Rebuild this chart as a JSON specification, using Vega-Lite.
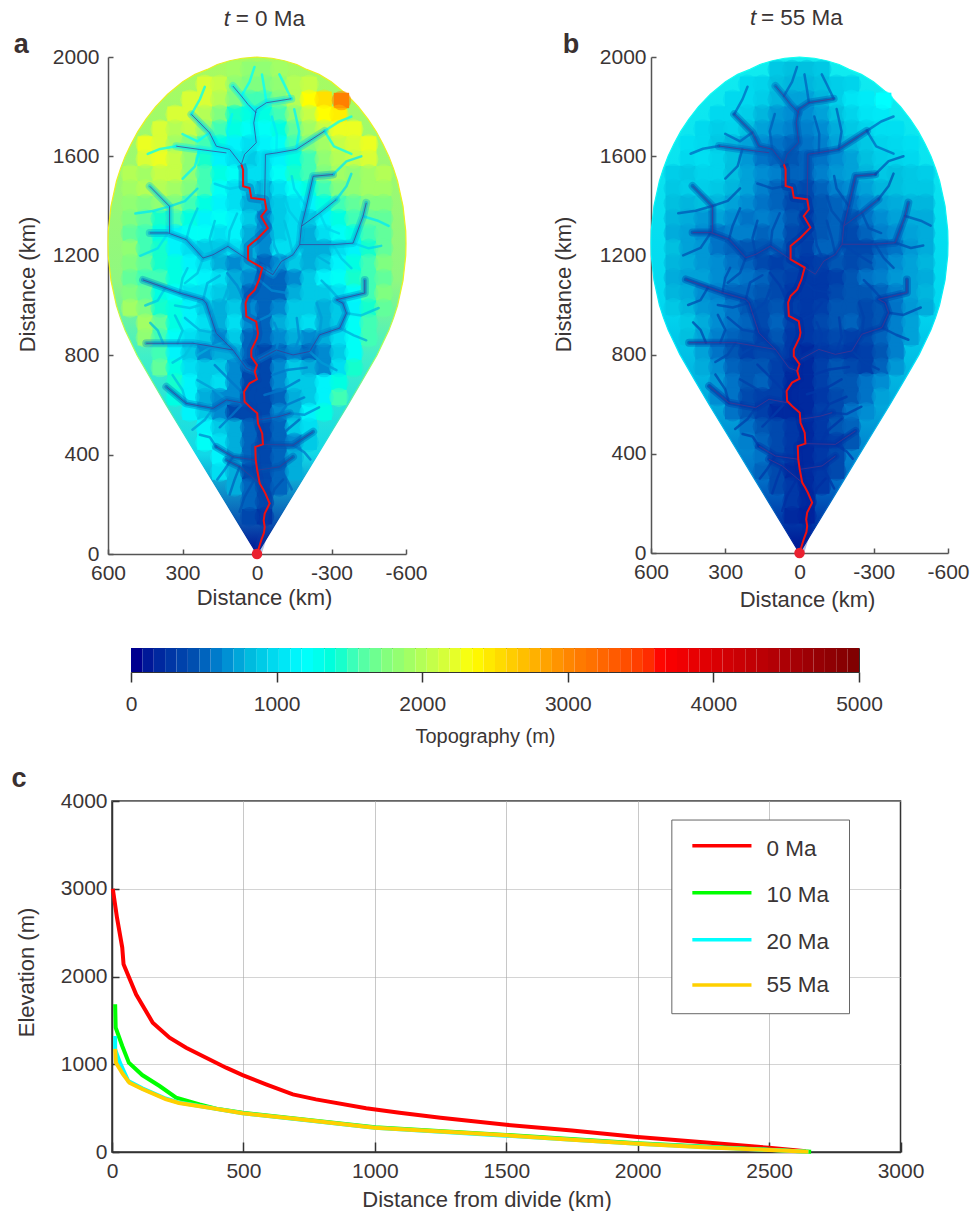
{"$schema":"https://vega.github.io/schema/vega-lite/v6.json","padding":{"left":10,"top":7,"right":0,"bottom":0},"bounds":"flush","spacing":0,"resolve":{"scale":{"color":"independent"}},
"config":{"view":{"stroke":null},"font":"Liberation Sans","axis":{"labelFont":"Liberation Sans","titleFont":"Liberation Sans","labelFontSize":21,"titleFontSize":22,"titleFontWeight":"normal","labelColor":"#3a3535","titleColor":"#3a3535","grid":false,"labelFlush":false,"labelOverlap":false,"domainColor":"#555","tickColor":"#555","domainWidth":1.5,"tickWidth":1.5}},
"datasets":{
"outline":[{"y":0,"w0":0,"w1":0},{"y":100,"w0":61,"w1":-61},{"y":200,"w0":122,"w1":-122},{"y":300,"w0":183,"w1":-183},{"y":400,"w0":244,"w1":-244},{"y":500,"w0":305,"w1":-305},{"y":600,"w0":366,"w1":-366},{"y":700,"w0":425,"w1":-425},{"y":800,"w0":483,"w1":-483},{"y":850,"w0":507,"w1":-507},{"y":900,"w0":531,"w1":-531},{"y":950,"w0":550,"w1":-550},{"y":1000,"w0":566,"w1":-566},{"y":1100,"w0":588,"w1":-588},{"y":1200,"w0":599,"w1":-599},{"y":1250,"w0":600,"w1":-600},{"y":1300,"w0":599,"w1":-599},{"y":1400,"w0":588,"w1":-588},{"y":1500,"w0":566,"w1":-566},{"y":1550,"w0":550,"w1":-550},{"y":1600,"w0":531,"w1":-531},{"y":1650,"w0":507,"w1":-507},{"y":1700,"w0":480,"w1":-480},{"y":1750,"w0":447,"w1":-447},{"y":1800,"w0":408,"w1":-408},{"y":1850,"w0":360,"w1":-360},{"y":1900,"w0":299,"w1":-299},{"y":1930,"w0":250,"w1":-250},{"y":1950,"w0":200,"w1":-200},{"y":1970,"w0":160,"w1":-160},{"y":1985,"w0":110,"w1":-110},{"y":1995,"w0":60,"w1":-60},{"y":2000,"w0":0,"w1":0}],
"cells":[
{"x":90,"y":1950,"a":1700,"b":920},{"x":30,"y":1950,"a":1600,"b":880},{"x":-30,"y":1950,"a":1600,"b":880},{"x":-90,"y":1950,"a":1700,"b":920},
{"x":210,"y":1890,"a":2000,"b":1010},{"x":150,"y":1890,"a":1900,"b":980},{"x":90,"y":1890,"a":1600,"b":880},{"x":30,"y":1890,"a":1500,"b":840},{"x":-30,"y":1890,"a":1500,"b":840},{"x":-90,"y":1890,"a":1600,"b":880},{"x":-150,"y":1890,"a":1800,"b":950},{"x":-210,"y":1890,"a":1900,"b":980},
{"x":270,"y":1830,"a":2000,"b":1010},{"x":210,"y":1830,"a":2000,"b":1010},{"x":150,"y":1830,"a":1800,"b":950},{"x":90,"y":1830,"a":1500,"b":840},{"x":30,"y":1830,"a":1300,"b":760},{"x":-30,"y":1830,"a":1300,"b":760},{"x":-90,"y":1830,"a":1500,"b":840},{"x":-150,"y":1830,"a":1800,"b":950},{"x":-210,"y":1830,"a":2200,"b":1070},{"x":-270,"y":1830,"a":2400,"b":1100},
{"x":330,"y":1770,"a":2000,"b":1010},{"x":270,"y":1770,"a":2000,"b":1010},{"x":210,"y":1770,"a":1800,"b":950},{"x":150,"y":1770,"a":1500,"b":840},{"x":90,"y":1770,"a":1200,"b":720},{"x":30,"y":1770,"a":1100,"b":680},{"x":-30,"y":1770,"a":1100,"b":680},{"x":-90,"y":1770,"a":1300,"b":760},{"x":-150,"y":1770,"a":1600,"b":880},{"x":-210,"y":1770,"a":1900,"b":980},{"x":-270,"y":1770,"a":2200,"b":1070},{"x":-330,"y":1770,"a":2300,"b":1090},
{"x":390,"y":1710,"a":2000,"b":1010},{"x":330,"y":1710,"a":1800,"b":950},{"x":270,"y":1710,"a":1900,"b":980},{"x":210,"y":1710,"a":1600,"b":880},{"x":150,"y":1710,"a":1300,"b":760},{"x":90,"y":1710,"a":1100,"b":680},{"x":30,"y":1710,"a":1000,"b":630},{"x":-30,"y":1710,"a":1000,"b":630},{"x":-90,"y":1710,"a":1100,"b":680},{"x":-150,"y":1710,"a":1400,"b":800},{"x":-210,"y":1710,"a":1700,"b":920},{"x":-270,"y":1710,"a":1900,"b":980},{"x":-330,"y":1710,"a":2100,"b":1040},{"x":-390,"y":1710,"a":2100,"b":1040},
{"x":450,"y":1650,"a":2100,"b":1040},{"x":390,"y":1650,"a":2000,"b":1010},{"x":330,"y":1650,"a":1700,"b":920},{"x":270,"y":1650,"a":1500,"b":840},{"x":210,"y":1650,"a":1300,"b":760},{"x":150,"y":1650,"a":1100,"b":680},{"x":90,"y":1650,"a":900,"b":580},{"x":30,"y":1650,"a":800,"b":520},{"x":-30,"y":1650,"a":900,"b":580},{"x":-90,"y":1650,"a":1000,"b":630},{"x":-150,"y":1650,"a":1300,"b":760},{"x":-210,"y":1650,"a":1500,"b":840},{"x":-270,"y":1650,"a":1700,"b":920},{"x":-330,"y":1650,"a":1900,"b":980},{"x":-390,"y":1650,"a":2000,"b":1010},{"x":-450,"y":1650,"a":2100,"b":1040},
{"x":450,"y":1590,"a":2000,"b":1010},{"x":390,"y":1590,"a":2100,"b":1040},{"x":330,"y":1590,"a":1900,"b":980},{"x":270,"y":1590,"a":1600,"b":880},{"x":210,"y":1590,"a":1200,"b":720},{"x":150,"y":1590,"a":900,"b":580},{"x":90,"y":1590,"a":800,"b":520},{"x":30,"y":1590,"a":700,"b":470},{"x":-30,"y":1590,"a":800,"b":520},{"x":-90,"y":1590,"a":900,"b":580},{"x":-150,"y":1590,"a":1100,"b":680},{"x":-210,"y":1590,"a":1300,"b":760},{"x":-270,"y":1590,"a":1600,"b":880},{"x":-330,"y":1590,"a":1800,"b":950},{"x":-390,"y":1590,"a":1900,"b":980},{"x":-450,"y":1590,"a":2000,"b":1010},
{"x":510,"y":1530,"a":1800,"b":950},{"x":450,"y":1530,"a":1700,"b":920},{"x":390,"y":1530,"a":1900,"b":980},{"x":330,"y":1530,"a":1900,"b":980},{"x":270,"y":1530,"a":1600,"b":880},{"x":210,"y":1530,"a":1300,"b":760},{"x":150,"y":1530,"a":1100,"b":680},{"x":90,"y":1530,"a":1000,"b":630},{"x":30,"y":1530,"a":800,"b":520},{"x":-30,"y":1530,"a":800,"b":520},{"x":-90,"y":1530,"a":1000,"b":630},{"x":-150,"y":1530,"a":1200,"b":720},{"x":-210,"y":1530,"a":1300,"b":760},{"x":-270,"y":1530,"a":1500,"b":840},{"x":-330,"y":1530,"a":1700,"b":920},{"x":-390,"y":1530,"a":1600,"b":880},{"x":-450,"y":1530,"a":1700,"b":920},{"x":-510,"y":1530,"a":1800,"b":950},
{"x":510,"y":1470,"a":1700,"b":920},{"x":450,"y":1470,"a":1800,"b":950},{"x":390,"y":1470,"a":1800,"b":950},{"x":330,"y":1470,"a":1700,"b":920},{"x":270,"y":1470,"a":1500,"b":840},{"x":210,"y":1470,"a":1300,"b":760},{"x":150,"y":1470,"a":1000,"b":630},{"x":90,"y":1470,"a":800,"b":520},{"x":30,"y":1470,"a":700,"b":470},{"x":-30,"y":1470,"a":600,"b":400},{"x":-90,"y":1470,"a":800,"b":520},{"x":-150,"y":1470,"a":1000,"b":630},{"x":-210,"y":1470,"a":1100,"b":680},{"x":-270,"y":1470,"a":1300,"b":760},{"x":-330,"y":1470,"a":1500,"b":840},{"x":-390,"y":1470,"a":1600,"b":880},{"x":-450,"y":1470,"a":1700,"b":920},{"x":-510,"y":1470,"a":1700,"b":920},
{"x":510,"y":1410,"a":1600,"b":880},{"x":450,"y":1410,"a":1500,"b":840},{"x":390,"y":1410,"a":1600,"b":880},{"x":330,"y":1410,"a":1500,"b":840},{"x":270,"y":1410,"a":1300,"b":760},{"x":210,"y":1410,"a":1100,"b":680},{"x":150,"y":1410,"a":900,"b":580},{"x":90,"y":1410,"a":800,"b":520},{"x":30,"y":1410,"a":600,"b":400},{"x":-30,"y":1410,"a":600,"b":400},{"x":-90,"y":1410,"a":700,"b":470},{"x":-150,"y":1410,"a":800,"b":520},{"x":-210,"y":1410,"a":900,"b":580},{"x":-270,"y":1410,"a":1100,"b":680},{"x":-330,"y":1410,"a":1300,"b":760},{"x":-390,"y":1410,"a":1400,"b":800},{"x":-450,"y":1410,"a":1500,"b":840},{"x":-510,"y":1410,"a":1500,"b":840},
{"x":510,"y":1350,"a":1500,"b":840},{"x":450,"y":1350,"a":1400,"b":800},{"x":390,"y":1350,"a":1200,"b":720},{"x":330,"y":1350,"a":1300,"b":760},{"x":270,"y":1350,"a":1100,"b":680},{"x":210,"y":1350,"a":900,"b":580},{"x":150,"y":1350,"a":1000,"b":630},{"x":90,"y":1350,"a":900,"b":580},{"x":30,"y":1350,"a":700,"b":470},{"x":-30,"y":1350,"a":500,"b":330},{"x":-90,"y":1350,"a":700,"b":470},{"x":-150,"y":1350,"a":800,"b":520},{"x":-210,"y":1350,"a":700,"b":470},{"x":-270,"y":1350,"a":900,"b":580},{"x":-330,"y":1350,"a":1100,"b":680},{"x":-390,"y":1350,"a":1300,"b":760},{"x":-450,"y":1350,"a":1400,"b":800},{"x":-510,"y":1350,"a":1400,"b":800},
{"x":510,"y":1290,"a":1400,"b":800},{"x":450,"y":1290,"a":1300,"b":760},{"x":390,"y":1290,"a":1100,"b":680},{"x":330,"y":1290,"a":900,"b":580},{"x":270,"y":1290,"a":1000,"b":630},{"x":210,"y":1290,"a":1000,"b":630},{"x":150,"y":1290,"a":800,"b":520},{"x":90,"y":1290,"a":900,"b":580},{"x":30,"y":1290,"a":600,"b":400},{"x":-30,"y":1290,"a":500,"b":330},{"x":-90,"y":1290,"a":700,"b":470},{"x":-150,"y":1290,"a":800,"b":520},{"x":-210,"y":1290,"a":600,"b":400},{"x":-270,"y":1290,"a":800,"b":520},{"x":-330,"y":1290,"a":1000,"b":630},{"x":-390,"y":1290,"a":1100,"b":680},{"x":-450,"y":1290,"a":1300,"b":760},{"x":-510,"y":1290,"a":1400,"b":800},
{"x":510,"y":1230,"a":1600,"b":880},{"x":450,"y":1230,"a":1300,"b":760},{"x":390,"y":1230,"a":1200,"b":720},{"x":330,"y":1230,"a":900,"b":580},{"x":270,"y":1230,"a":800,"b":520},{"x":210,"y":1230,"a":700,"b":470},{"x":150,"y":1230,"a":700,"b":470},{"x":90,"y":1230,"a":800,"b":520},{"x":30,"y":1230,"a":600,"b":400},{"x":-30,"y":1230,"a":500,"b":330},{"x":-90,"y":1230,"a":800,"b":520},{"x":-150,"y":1230,"a":800,"b":520},{"x":-210,"y":1230,"a":600,"b":400},{"x":-270,"y":1230,"a":600,"b":400},{"x":-330,"y":1230,"a":800,"b":520},{"x":-390,"y":1230,"a":900,"b":580},{"x":-450,"y":1230,"a":1200,"b":720},{"x":-510,"y":1230,"a":1400,"b":800},
{"x":510,"y":1170,"a":1500,"b":840},{"x":450,"y":1170,"a":1400,"b":800},{"x":390,"y":1170,"a":1200,"b":720},{"x":330,"y":1170,"a":1100,"b":680},{"x":270,"y":1170,"a":900,"b":580},{"x":210,"y":1170,"a":800,"b":520},{"x":150,"y":1170,"a":600,"b":400},{"x":90,"y":1170,"a":500,"b":330},{"x":30,"y":1170,"a":600,"b":400},{"x":-30,"y":1170,"a":400,"b":280},{"x":-90,"y":1170,"a":500,"b":330},{"x":-150,"y":1170,"a":700,"b":470},{"x":-210,"y":1170,"a":600,"b":400},{"x":-270,"y":1170,"a":700,"b":470},{"x":-330,"y":1170,"a":900,"b":580},{"x":-390,"y":1170,"a":1100,"b":680},{"x":-450,"y":1170,"a":1300,"b":760},{"x":-510,"y":1170,"a":1500,"b":840},
{"x":510,"y":1110,"a":1400,"b":800},{"x":450,"y":1110,"a":1300,"b":760},{"x":390,"y":1110,"a":1300,"b":760},{"x":330,"y":1110,"a":1100,"b":680},{"x":270,"y":1110,"a":1000,"b":630},{"x":210,"y":1110,"a":900,"b":580},{"x":150,"y":1110,"a":800,"b":520},{"x":90,"y":1110,"a":600,"b":400},{"x":30,"y":1110,"a":500,"b":330},{"x":-30,"y":1110,"a":400,"b":280},{"x":-90,"y":1110,"a":400,"b":280},{"x":-150,"y":1110,"a":500,"b":330},{"x":-210,"y":1110,"a":700,"b":470},{"x":-270,"y":1110,"a":900,"b":580},{"x":-330,"y":1110,"a":1000,"b":630},{"x":-390,"y":1110,"a":1200,"b":720},{"x":-450,"y":1110,"a":1300,"b":760},{"x":-510,"y":1110,"a":1400,"b":800},
{"x":510,"y":1050,"a":1500,"b":840},{"x":450,"y":1050,"a":1400,"b":800},{"x":390,"y":1050,"a":1100,"b":680},{"x":330,"y":1050,"a":1000,"b":630},{"x":270,"y":1050,"a":800,"b":520},{"x":210,"y":1050,"a":800,"b":520},{"x":150,"y":1050,"a":700,"b":470},{"x":90,"y":1050,"a":600,"b":400},{"x":30,"y":1050,"a":400,"b":280},{"x":-30,"y":1050,"a":400,"b":280},{"x":-90,"y":1050,"a":400,"b":280},{"x":-150,"y":1050,"a":600,"b":400},{"x":-210,"y":1050,"a":700,"b":470},{"x":-270,"y":1050,"a":700,"b":470},{"x":-330,"y":1050,"a":800,"b":520},{"x":-390,"y":1050,"a":1000,"b":630},{"x":-450,"y":1050,"a":1300,"b":760},{"x":-510,"y":1050,"a":1500,"b":840},
{"x":510,"y":990,"a":1700,"b":920},{"x":450,"y":990,"a":1500,"b":840},{"x":390,"y":990,"a":1200,"b":720},{"x":330,"y":990,"a":1100,"b":680},{"x":270,"y":990,"a":900,"b":580},{"x":210,"y":990,"a":700,"b":470},{"x":150,"y":990,"a":600,"b":400},{"x":90,"y":990,"a":700,"b":470},{"x":30,"y":990,"a":500,"b":330},{"x":-30,"y":990,"a":400,"b":280},{"x":-90,"y":990,"a":500,"b":330},{"x":-150,"y":990,"a":700,"b":470},{"x":-210,"y":990,"a":700,"b":470},{"x":-270,"y":990,"a":600,"b":400},{"x":-330,"y":990,"a":700,"b":470},{"x":-390,"y":990,"a":900,"b":580},{"x":-450,"y":990,"a":1200,"b":720},{"x":-510,"y":990,"a":1400,"b":800},
{"x":450,"y":930,"a":1700,"b":920},{"x":390,"y":930,"a":1400,"b":800},{"x":330,"y":930,"a":1100,"b":680},{"x":270,"y":930,"a":900,"b":580},{"x":210,"y":930,"a":800,"b":520},{"x":150,"y":930,"a":600,"b":400},{"x":90,"y":930,"a":800,"b":520},{"x":30,"y":930,"a":500,"b":330},{"x":-30,"y":930,"a":400,"b":280},{"x":-90,"y":930,"a":600,"b":400},{"x":-150,"y":930,"a":700,"b":470},{"x":-210,"y":930,"a":800,"b":520},{"x":-270,"y":930,"a":600,"b":400},{"x":-330,"y":930,"a":700,"b":470},{"x":-390,"y":930,"a":1000,"b":630},{"x":-450,"y":930,"a":1300,"b":760},
{"x":450,"y":870,"a":1600,"b":880},{"x":390,"y":870,"a":1300,"b":760},{"x":330,"y":870,"a":1000,"b":630},{"x":270,"y":870,"a":800,"b":520},{"x":210,"y":870,"a":700,"b":470},{"x":150,"y":870,"a":500,"b":330},{"x":90,"y":870,"a":700,"b":470},{"x":30,"y":870,"a":400,"b":280},{"x":-30,"y":870,"a":400,"b":280},{"x":-90,"y":870,"a":500,"b":330},{"x":-150,"y":870,"a":600,"b":400},{"x":-210,"y":870,"a":500,"b":330},{"x":-270,"y":870,"a":600,"b":400},{"x":-330,"y":870,"a":800,"b":520},{"x":-390,"y":870,"a":1000,"b":630},{"x":-450,"y":870,"a":1300,"b":760},
{"x":390,"y":810,"a":1300,"b":760},{"x":330,"y":810,"a":900,"b":580},{"x":270,"y":810,"a":700,"b":470},{"x":210,"y":810,"a":500,"b":330},{"x":150,"y":810,"a":600,"b":400},{"x":90,"y":810,"a":600,"b":400},{"x":30,"y":810,"a":400,"b":280},{"x":-30,"y":810,"a":300,"b":180},{"x":-90,"y":810,"a":400,"b":280},{"x":-150,"y":810,"a":500,"b":330},{"x":-210,"y":810,"a":400,"b":280},{"x":-270,"y":810,"a":500,"b":330},{"x":-330,"y":810,"a":700,"b":470},{"x":-390,"y":810,"a":1000,"b":630},
{"x":390,"y":750,"a":1400,"b":800},{"x":330,"y":750,"a":1100,"b":680},{"x":270,"y":750,"a":800,"b":520},{"x":210,"y":750,"a":700,"b":470},{"x":150,"y":750,"a":700,"b":470},{"x":90,"y":750,"a":500,"b":330},{"x":30,"y":750,"a":300,"b":180},{"x":-30,"y":750,"a":300,"b":180},{"x":-90,"y":750,"a":500,"b":330},{"x":-150,"y":750,"a":700,"b":470},{"x":-210,"y":750,"a":600,"b":400},{"x":-270,"y":750,"a":500,"b":330},{"x":-330,"y":750,"a":800,"b":520},{"x":-390,"y":750,"a":1200,"b":720},
{"x":330,"y":690,"a":1200,"b":720},{"x":270,"y":690,"a":900,"b":580},{"x":210,"y":690,"a":700,"b":470},{"x":150,"y":690,"a":800,"b":520},{"x":90,"y":690,"a":500,"b":330},{"x":30,"y":690,"a":300,"b":180},{"x":-30,"y":690,"a":300,"b":180},{"x":-90,"y":690,"a":500,"b":330},{"x":-150,"y":690,"a":700,"b":470},{"x":-210,"y":690,"a":700,"b":470},{"x":-270,"y":690,"a":900,"b":580},{"x":-330,"y":690,"a":1100,"b":680},
{"x":330,"y":630,"a":1100,"b":680},{"x":270,"y":630,"a":900,"b":580},{"x":210,"y":630,"a":600,"b":400},{"x":150,"y":630,"a":500,"b":330},{"x":90,"y":630,"a":500,"b":330},{"x":30,"y":630,"a":300,"b":180},{"x":-30,"y":630,"a":300,"b":180},{"x":-90,"y":630,"a":400,"b":280},{"x":-150,"y":630,"a":600,"b":400},{"x":-210,"y":630,"a":700,"b":470},{"x":-270,"y":630,"a":900,"b":580},{"x":-330,"y":630,"a":1300,"b":760},
{"x":270,"y":570,"a":900,"b":580},{"x":210,"y":570,"a":700,"b":470},{"x":150,"y":570,"a":500,"b":330},{"x":90,"y":570,"a":300,"b":180},{"x":30,"y":570,"a":300,"b":180},{"x":-30,"y":570,"a":300,"b":180},{"x":-90,"y":570,"a":500,"b":330},{"x":-150,"y":570,"a":600,"b":400},{"x":-210,"y":570,"a":900,"b":580},{"x":-270,"y":570,"a":1100,"b":680},
{"x":210,"y":510,"a":900,"b":580},{"x":150,"y":510,"a":700,"b":470},{"x":90,"y":510,"a":600,"b":400},{"x":30,"y":510,"a":400,"b":280},{"x":-30,"y":510,"a":300,"b":180},{"x":-90,"y":510,"a":400,"b":280},{"x":-150,"y":510,"a":700,"b":470},{"x":-210,"y":510,"a":800,"b":520},
{"x":210,"y":450,"a":1000,"b":630},{"x":150,"y":450,"a":800,"b":520},{"x":90,"y":450,"a":600,"b":400},{"x":30,"y":450,"a":400,"b":280},{"x":-30,"y":450,"a":300,"b":180},{"x":-90,"y":450,"a":400,"b":280},{"x":-150,"y":450,"a":500,"b":330},{"x":-210,"y":450,"a":700,"b":470},
{"x":150,"y":390,"a":900,"b":580},{"x":90,"y":390,"a":600,"b":400},{"x":30,"y":390,"a":400,"b":280},{"x":-30,"y":390,"a":300,"b":180},{"x":-90,"y":390,"a":400,"b":280},{"x":-150,"y":390,"a":600,"b":400},
{"x":150,"y":330,"a":800,"b":520},{"x":90,"y":330,"a":600,"b":400},{"x":30,"y":330,"a":300,"b":180},{"x":-30,"y":330,"a":300,"b":180},{"x":-90,"y":330,"a":400,"b":280},{"x":-150,"y":330,"a":600,"b":400},
{"x":90,"y":270,"a":600,"b":400},{"x":30,"y":270,"a":400,"b":280},{"x":-30,"y":270,"a":300,"b":180},{"x":-90,"y":270,"a":400,"b":280},
{"x":30,"y":210,"a":400,"b":280},{"x":-30,"y":210,"a":300,"b":180},
{"x":30,"y":150,"a":300,"b":180},{"x":-30,"y":150,"a":200,"b":150},
{"x":-340,"y":1825,"a":3000,"b":1200}],
"main":[{"x":0,"y":0},{"x":-17,"y":55},{"x":-28,"y":85},{"x":-31,"y":109},{"x":-27,"y":135},{"x":-31,"y":163},{"x":-51,"y":203},{"x":-34,"y":243},{"x":-24,"y":262},{"x":-11,"y":284},{"x":-1,"y":337},{"x":5,"y":378},{"x":7,"y":431},{"x":-24,"y":441},{"x":-21,"y":485},{"x":-4,"y":525},{"x":-1,"y":566},{"x":30,"y":593},{"x":50,"y":613},{"x":52,"y":653},{"x":30,"y":687},{"x":0,"y":703},{"x":9,"y":734},{"x":0,"y":761},{"x":23,"y":794},{"x":23,"y":821},{"x":0,"y":868},{"x":-4,"y":888},{"x":3,"y":935},{"x":43,"y":956},{"x":46,"y":1009},{"x":36,"y":1036},{"x":9,"y":1063},{"x":-8,"y":1103},{"x":-21,"y":1151},{"x":36,"y":1184},{"x":36,"y":1238},{"x":-4,"y":1271},{"x":-44,"y":1312},{"x":-17,"y":1359},{"x":-38,"y":1386},{"x":-31,"y":1426},{"x":23,"y":1433},{"x":30,"y":1473},{"x":56,"y":1480},{"x":56,"y":1547},{"x":63,"y":1567}],
"rivers":[
{"id":"t1","l":2,"x":63,"y":1567,"a":800,"b":450},{"id":"t1","l":2,"x":50,"y":1608,"a":800,"b":450},{"id":"t1","l":2,"x":3,"y":1655,"a":800,"b":450},{"id":"t1","l":2,"x":13,"y":1735,"a":800,"b":450},{"id":"t1","l":2,"x":3,"y":1789,"a":800,"b":450},{"id":"t1","l":2,"x":-38,"y":1816,"a":800,"b":450},{"id":"t1","l":2,"x":-138,"y":1832,"a":800,"b":450},
{"id":"t1b","l":2,"x":3,"y":1775,"a":850,"b":500},{"id":"t1b","l":2,"x":36,"y":1809,"a":850,"b":500},{"id":"t1b","l":2,"x":63,"y":1843,"a":850,"b":500},{"id":"t1b","l":2,"x":97,"y":1883,"a":850,"b":500},
{"id":"t2","l":2,"x":63,"y":1567,"a":750,"b":450},{"id":"t2","l":2,"x":110,"y":1628,"a":750,"b":450},{"id":"t2","l":2,"x":164,"y":1641,"a":750,"b":450},{"id":"t2","l":2,"x":191,"y":1695,"a":750,"b":450},{"id":"t2","l":2,"x":264,"y":1769,"a":750,"b":450},
{"id":"t2b","l":2,"x":123,"y":1614,"a":850,"b":500},{"id":"t2b","l":2,"x":231,"y":1628,"a":850,"b":500},{"id":"t2b","l":2,"x":325,"y":1641,"a":850,"b":500},
{"id":"t3","l":2,"x":-21,"y":1151,"a":550,"b":330},{"id":"t3","l":2,"x":-64,"y":1124,"a":550,"b":330},{"id":"t3","l":2,"x":-98,"y":1177,"a":550,"b":330},{"id":"t3","l":2,"x":-145,"y":1204,"a":550,"b":330},{"id":"t3","l":2,"x":-172,"y":1245,"a":550,"b":330},{"id":"t3","l":2,"x":-179,"y":1319,"a":550,"b":330},{"id":"t3","l":2,"x":-199,"y":1399,"a":550,"b":330},{"id":"t3","l":2,"x":-226,"y":1520,"a":550,"b":330},{"id":"t3","l":2,"x":-306,"y":1527,"a":550,"b":330},
{"id":"t3b","l":2,"x":-31,"y":1426,"a":700,"b":400},{"id":"t3b","l":2,"x":-34,"y":1608,"a":700,"b":400},{"id":"t3b","l":2,"x":-78,"y":1614,"a":700,"b":400},{"id":"t3b","l":2,"x":-158,"y":1628,"a":700,"b":400},{"id":"t3b","l":2,"x":-272,"y":1702,"a":700,"b":400},
{"id":"t4","l":2,"x":36,"y":1184,"a":550,"b":330},{"id":"t4","l":2,"x":117,"y":1238,"a":550,"b":330},{"id":"t4","l":2,"x":177,"y":1204,"a":550,"b":330},{"id":"t4","l":2,"x":217,"y":1191,"a":550,"b":330},{"id":"t4","l":2,"x":285,"y":1265,"a":550,"b":330},{"id":"t4","l":2,"x":358,"y":1292,"a":550,"b":330},{"id":"t4","l":2,"x":432,"y":1292,"a":550,"b":330},
{"id":"t4b","l":2,"x":352,"y":1292,"a":700,"b":420},{"id":"t4b","l":2,"x":352,"y":1399,"a":700,"b":420},{"id":"t4b","l":2,"x":432,"y":1480,"a":700,"b":420},
{"id":"t5","l":2,"x":-172,"y":1245,"a":600,"b":380},{"id":"t5","l":2,"x":-306,"y":1245,"a":600,"b":380},{"id":"t5","l":2,"x":-387,"y":1251,"a":600,"b":380},{"id":"t5","l":2,"x":-427,"y":1359,"a":600,"b":380},{"id":"t5","l":2,"x":-440,"y":1413,"a":600,"b":380},
{"id":"t6","l":2,"x":-179,"y":1319,"a":650,"b":400},{"id":"t6","l":2,"x":-252,"y":1372,"a":650,"b":400},{"id":"t6","l":2,"x":-319,"y":1426,"a":650,"b":400},
{"id":"t7","l":2,"x":-4,"y":781,"a":450,"b":280},{"id":"t7","l":2,"x":-78,"y":821,"a":450,"b":280},{"id":"t7","l":2,"x":-145,"y":801,"a":450,"b":280},{"id":"t7","l":2,"x":-212,"y":815,"a":450,"b":280},{"id":"t7","l":2,"x":-252,"y":882,"a":450,"b":280},{"id":"t7","l":2,"x":-333,"y":909,"a":450,"b":280},{"id":"t7","l":2,"x":-360,"y":969,"a":450,"b":280},{"id":"t7","l":2,"x":-346,"y":1009,"a":450,"b":280},{"id":"t7","l":2,"x":-319,"y":1023,"a":450,"b":280},{"id":"t7","l":2,"x":-434,"y":1050,"a":450,"b":280},{"id":"t7","l":2,"x":-434,"y":1103,"a":450,"b":280},
{"id":"t8","l":2,"x":9,"y":734,"a":450,"b":280},{"id":"t8","l":2,"x":43,"y":747,"a":450,"b":280},{"id":"t8","l":2,"x":97,"y":821,"a":450,"b":280},{"id":"t8","l":2,"x":164,"y":888,"a":450,"b":280},{"id":"t8","l":2,"x":191,"y":969,"a":450,"b":280},{"id":"t8","l":2,"x":204,"y":1009,"a":450,"b":280},{"id":"t8","l":2,"x":217,"y":1023,"a":450,"b":280},{"id":"t8","l":2,"x":311,"y":1050,"a":450,"b":280},{"id":"t8","l":2,"x":459,"y":1103,"a":450,"b":280},
{"id":"t8b","l":2,"x":97,"y":821,"a":500,"b":320},{"id":"t8b","l":2,"x":258,"y":848,"a":500,"b":320},{"id":"t8b","l":2,"x":378,"y":848,"a":500,"b":320},{"id":"t8b","l":2,"x":446,"y":848,"a":500,"b":320},
{"id":"t9","l":2,"x":50,"y":606,"a":400,"b":260},{"id":"t9","l":2,"x":123,"y":620,"a":400,"b":260},{"id":"t9","l":2,"x":177,"y":586,"a":400,"b":260},{"id":"t9","l":2,"x":285,"y":606,"a":400,"b":260},{"id":"t9","l":2,"x":365,"y":673,"a":400,"b":260},
{"id":"t10","l":2,"x":-24,"y":441,"a":350,"b":220},{"id":"t10","l":2,"x":-145,"y":438,"a":350,"b":220},{"id":"t10","l":2,"x":-226,"y":492,"a":350,"b":220},
{"id":"t11","l":2,"x":-4,"y":539,"a":400,"b":260},{"id":"t11","l":2,"x":-85,"y":552,"a":400,"b":260},{"id":"t11","l":2,"x":-132,"y":566,"a":400,"b":260},
{"id":"t12","l":2,"x":5,"y":378,"a":350,"b":220},{"id":"t12","l":2,"x":97,"y":391,"a":350,"b":220},{"id":"t12","l":2,"x":164,"y":431,"a":350,"b":220},
{"id":"t13","l":2,"x":-11,"y":284,"a":350,"b":220},{"id":"t13","l":2,"x":70,"y":351,"a":350,"b":220},{"id":"t13","l":2,"x":123,"y":378,"a":350,"b":220},
{"id":"t14","l":2,"x":-1,"y":337,"a":350,"b":220},{"id":"t14","l":2,"x":-91,"y":351,"a":350,"b":220},{"id":"t14","l":2,"x":-145,"y":391,"a":350,"b":220},
{"id":"w1","l":3,"x":130,"y":855,"a":600,"b":380},{"id":"w1","l":3,"x":190,"y":830,"a":600,"b":380},{"id":"w1","l":3,"x":240,"y":800,"a":600,"b":380},
{"id":"w2","l":3,"x":164,"y":888,"a":600,"b":380},{"id":"w2","l":3,"x":230,"y":900,"a":600,"b":380},{"id":"w2","l":3,"x":290,"y":950,"a":600,"b":380},
{"id":"w3","l":3,"x":191,"y":969,"a":600,"b":380},{"id":"w3","l":3,"x":140,"y":1010,"a":600,"b":380},{"id":"w3","l":3,"x":120,"y":1060,"a":600,"b":380},
{"id":"w4","l":3,"x":204,"y":1009,"a":650,"b":400},{"id":"w4","l":3,"x":270,"y":990,"a":650,"b":400},{"id":"w4","l":3,"x":330,"y":1000,"a":650,"b":400},
{"id":"w5","l":3,"x":258,"y":848,"a":650,"b":400},{"id":"w5","l":3,"x":290,"y":800,"a":650,"b":400},{"id":"w5","l":3,"x":340,"y":770,"a":650,"b":400},
{"id":"w6","l":3,"x":378,"y":848,"a":650,"b":400},{"id":"w6","l":3,"x":400,"y":900,"a":650,"b":400},{"id":"w6","l":3,"x":430,"y":930,"a":650,"b":400},
{"id":"w7","l":3,"x":320,"y":848,"a":650,"b":400},{"id":"w7","l":3,"x":300,"y":900,"a":650,"b":400},{"id":"w7","l":3,"x":330,"y":960,"a":650,"b":400},
{"id":"w8","l":3,"x":311,"y":1050,"a":650,"b":400},{"id":"w8","l":3,"x":300,"y":1110,"a":650,"b":400},{"id":"w8","l":3,"x":280,"y":1150,"a":650,"b":400},
{"id":"w9","l":3,"x":370,"y":1070,"a":700,"b":420},{"id":"w9","l":3,"x":400,"y":1020,"a":700,"b":420},{"id":"w9","l":3,"x":450,"y":1000,"a":700,"b":420},
{"id":"w10","l":3,"x":217,"y":1023,"a":600,"b":380},{"id":"w10","l":3,"x":200,"y":1090,"a":600,"b":380},{"id":"w10","l":3,"x":150,"y":1120,"a":600,"b":380},
{"id":"w11","l":3,"x":123,"y":620,"a":550,"b":340},{"id":"w11","l":3,"x":170,"y":660,"a":550,"b":340},{"id":"w11","l":3,"x":240,"y":700,"a":550,"b":340},
{"id":"w12","l":3,"x":177,"y":586,"a":550,"b":340},{"id":"w12","l":3,"x":210,"y":540,"a":550,"b":340},{"id":"w12","l":3,"x":260,"y":500,"a":550,"b":340},
{"id":"w13","l":3,"x":285,"y":606,"a":650,"b":400},{"id":"w13","l":3,"x":300,"y":660,"a":650,"b":400},{"id":"w13","l":3,"x":340,"y":720,"a":650,"b":400},
{"id":"w14","l":3,"x":60,"y":650,"a":450,"b":300},{"id":"w14","l":3,"x":110,"y":700,"a":450,"b":300},{"id":"w14","l":3,"x":170,"y":760,"a":450,"b":300},
{"id":"w15","l":3,"x":50,"y":613,"a":450,"b":300},{"id":"w15","l":3,"x":100,"y":560,"a":450,"b":300},{"id":"w15","l":3,"x":150,"y":510,"a":450,"b":300},
{"id":"w16","l":3,"x":97,"y":391,"a":450,"b":300},{"id":"w16","l":3,"x":130,"y":340,"a":450,"b":300},{"id":"w16","l":3,"x":160,"y":300,"a":450,"b":300},
{"id":"w17","l":3,"x":164,"y":431,"a":500,"b":320},{"id":"w17","l":3,"x":190,"y":470,"a":500,"b":320},{"id":"w17","l":3,"x":230,"y":480,"a":500,"b":320},
{"id":"w18","l":3,"x":70,"y":351,"a":400,"b":260},{"id":"w18","l":3,"x":90,"y":300,"a":400,"b":260},{"id":"w18","l":3,"x":110,"y":240,"a":400,"b":260},
{"id":"w19","l":3,"x":10,"y":300,"a":350,"b":220},{"id":"w19","l":3,"x":50,"y":230,"a":350,"b":220},{"id":"w19","l":3,"x":70,"y":170,"a":350,"b":220},
{"id":"w20","l":3,"x":-85,"y":440,"a":400,"b":260},{"id":"w20","l":3,"x":-110,"y":490,"a":400,"b":260},{"id":"w20","l":3,"x":-170,"y":540,"a":400,"b":260},
{"id":"w21","l":3,"x":-145,"y":438,"a":450,"b":280},{"id":"w21","l":3,"x":-190,"y":410,"a":450,"b":280},{"id":"w21","l":3,"x":-215,"y":380,"a":450,"b":280},
{"id":"w22","l":3,"x":-91,"y":351,"a":400,"b":260},{"id":"w22","l":3,"x":-120,"y":300,"a":400,"b":260},{"id":"w22","l":3,"x":-140,"y":260,"a":400,"b":260},
{"id":"w23","l":3,"x":-51,"y":203,"a":350,"b":220},{"id":"w23","l":3,"x":-70,"y":260,"a":350,"b":220},{"id":"w23","l":3,"x":-105,"y":300,"a":350,"b":220},
{"id":"w24","l":3,"x":-85,"y":552,"a":450,"b":280},{"id":"w24","l":3,"x":-120,"y":600,"a":450,"b":280},{"id":"w24","l":3,"x":-190,"y":630,"a":450,"b":280},
{"id":"w25","l":3,"x":-132,"y":566,"a":500,"b":320},{"id":"w25","l":3,"x":-190,"y":560,"a":500,"b":320},{"id":"w25","l":3,"x":-250,"y":590,"a":500,"b":320},
{"id":"w26","l":3,"x":-30,"y":640,"a":450,"b":280},{"id":"w26","l":3,"x":-100,"y":660,"a":450,"b":280},{"id":"w26","l":3,"x":-170,"y":700,"a":450,"b":280},
{"id":"w27","l":3,"x":-60,"y":720,"a":450,"b":280},{"id":"w27","l":3,"x":-120,"y":740,"a":450,"b":280},{"id":"w27","l":3,"x":-200,"y":750,"a":450,"b":280},
{"id":"w28","l":3,"x":-212,"y":815,"a":550,"b":340},{"id":"w28","l":3,"x":-260,"y":770,"a":550,"b":340},{"id":"w28","l":3,"x":-320,"y":740,"a":550,"b":340},
{"id":"w29","l":3,"x":-78,"y":821,"a":500,"b":320},{"id":"w29","l":3,"x":-90,"y":880,"a":500,"b":320},{"id":"w29","l":3,"x":-70,"y":930,"a":500,"b":320},
{"id":"w30","l":3,"x":-145,"y":801,"a":500,"b":320},{"id":"w30","l":3,"x":-170,"y":870,"a":500,"b":320},{"id":"w30","l":3,"x":-160,"y":950,"a":500,"b":320},
{"id":"w31","l":3,"x":-252,"y":882,"a":550,"b":340},{"id":"w31","l":3,"x":-260,"y":950,"a":550,"b":340},{"id":"w31","l":3,"x":-240,"y":1010,"a":550,"b":340},
{"id":"w32","l":3,"x":-333,"y":909,"a":600,"b":380},{"id":"w32","l":3,"x":-390,"y":880,"a":600,"b":380},{"id":"w32","l":3,"x":-440,"y":860,"a":600,"b":380},
{"id":"w33","l":3,"x":-360,"y":969,"a":650,"b":400},{"id":"w33","l":3,"x":-420,"y":960,"a":650,"b":400},{"id":"w33","l":3,"x":-490,"y":990,"a":650,"b":400},
{"id":"w34","l":3,"x":-346,"y":1009,"a":600,"b":380},{"id":"w34","l":3,"x":-300,"y":1060,"a":600,"b":380},{"id":"w34","l":3,"x":-260,"y":1100,"a":600,"b":380},
{"id":"w35","l":3,"x":-98,"y":1177,"a":600,"b":380},{"id":"w35","l":3,"x":-70,"y":1240,"a":600,"b":380},{"id":"w35","l":3,"x":-60,"y":1300,"a":600,"b":380},
{"id":"w36","l":3,"x":-145,"y":1204,"a":650,"b":400},{"id":"w36","l":3,"x":-130,"y":1270,"a":650,"b":400},{"id":"w36","l":3,"x":-110,"y":1340,"a":650,"b":400},
{"id":"w37","l":3,"x":-172,"y":1245,"a":600,"b":380},{"id":"w37","l":3,"x":-240,"y":1200,"a":600,"b":380},{"id":"w37","l":3,"x":-290,"y":1170,"a":600,"b":380},
{"id":"w38","l":3,"x":-306,"y":1245,"a":700,"b":420},{"id":"w38","l":3,"x":-340,"y":1190,"a":700,"b":420},{"id":"w38","l":3,"x":-380,"y":1150,"a":700,"b":420},
{"id":"w39","l":3,"x":-387,"y":1251,"a":750,"b":440},{"id":"w39","l":3,"x":-450,"y":1230,"a":750,"b":440},{"id":"w39","l":3,"x":-500,"y":1240,"a":750,"b":440},
{"id":"w40","l":3,"x":-179,"y":1319,"a":700,"b":420},{"id":"w40","l":3,"x":-130,"y":1380,"a":700,"b":420},{"id":"w40","l":3,"x":-110,"y":1440,"a":700,"b":420},
{"id":"w41","l":3,"x":-199,"y":1399,"a":750,"b":440},{"id":"w41","l":3,"x":-150,"y":1470,"a":750,"b":440},{"id":"w41","l":3,"x":-140,"y":1520,"a":750,"b":440},
{"id":"w42","l":3,"x":-252,"y":1372,"a":750,"b":440},{"id":"w42","l":3,"x":-280,"y":1310,"a":750,"b":440},{"id":"w42","l":3,"x":-330,"y":1290,"a":750,"b":440},
{"id":"w43","l":3,"x":-319,"y":1426,"a":800,"b":460},{"id":"w43","l":3,"x":-360,"y":1480,"a":800,"b":460},{"id":"w43","l":3,"x":-380,"y":1530,"a":800,"b":460},
{"id":"w44","l":3,"x":-306,"y":1527,"a":850,"b":480},{"id":"w44","l":3,"x":-360,"y":1580,"a":850,"b":480},{"id":"w44","l":3,"x":-420,"y":1600,"a":850,"b":480},
{"id":"w45","l":3,"x":-427,"y":1359,"a":850,"b":480},{"id":"w45","l":3,"x":-490,"y":1340,"a":850,"b":480},{"id":"w45","l":3,"x":-530,"y":1320,"a":850,"b":480},
{"id":"w46","l":3,"x":117,"y":1238,"a":650,"b":400},{"id":"w46","l":3,"x":110,"y":1300,"a":650,"b":400},{"id":"w46","l":3,"x":80,"y":1370,"a":650,"b":400},
{"id":"w47","l":3,"x":177,"y":1204,"a":650,"b":400},{"id":"w47","l":3,"x":190,"y":1270,"a":650,"b":400},{"id":"w47","l":3,"x":170,"y":1340,"a":650,"b":400},
{"id":"w48","l":3,"x":217,"y":1191,"a":650,"b":400},{"id":"w48","l":3,"x":240,"y":1130,"a":650,"b":400},{"id":"w48","l":3,"x":290,"y":1090,"a":650,"b":400},
{"id":"w49","l":3,"x":285,"y":1265,"a":700,"b":420},{"id":"w49","l":3,"x":270,"y":1320,"a":700,"b":420},{"id":"w49","l":3,"x":240,"y":1390,"a":700,"b":420},
{"id":"w50","l":3,"x":358,"y":1292,"a":800,"b":460},{"id":"w50","l":3,"x":400,"y":1230,"a":800,"b":460},{"id":"w50","l":3,"x":470,"y":1200,"a":800,"b":460},
{"id":"w51","l":3,"x":352,"y":1399,"a":800,"b":460},{"id":"w51","l":3,"x":290,"y":1420,"a":800,"b":460},{"id":"w51","l":3,"x":240,"y":1470,"a":800,"b":460},
{"id":"w52","l":3,"x":352,"y":1399,"a":850,"b":480},{"id":"w52","l":3,"x":420,"y":1380,"a":850,"b":480},{"id":"w52","l":3,"x":490,"y":1370,"a":850,"b":480},
{"id":"w53","l":3,"x":-138,"y":1832,"a":950,"b":520},{"id":"w53","l":3,"x":-110,"y":1890,"a":950,"b":520},{"id":"w53","l":3,"x":-90,"y":1930,"a":950,"b":520},
{"id":"w54","l":3,"x":-38,"y":1816,"a":950,"b":520},{"id":"w54","l":3,"x":-30,"y":1870,"a":950,"b":520},{"id":"w54","l":3,"x":-20,"y":1930,"a":950,"b":520},
{"id":"w55","l":3,"x":63,"y":1843,"a":950,"b":520},{"id":"w55","l":3,"x":30,"y":1900,"a":950,"b":520},{"id":"w55","l":3,"x":10,"y":1960,"a":950,"b":520},
{"id":"w56","l":3,"x":191,"y":1695,"a":950,"b":520},{"id":"w56","l":3,"x":240,"y":1660,"a":950,"b":520},{"id":"w56","l":3,"x":300,"y":1690,"a":950,"b":520},
{"id":"w57","l":3,"x":264,"y":1769,"a":1000,"b":540},{"id":"w57","l":3,"x":230,"y":1830,"a":1000,"b":540},{"id":"w57","l":3,"x":210,"y":1880,"a":1000,"b":540},
{"id":"w58","l":3,"x":110,"y":1628,"a":900,"b":500},{"id":"w58","l":3,"x":120,"y":1700,"a":900,"b":500},{"id":"w58","l":3,"x":100,"y":1770,"a":900,"b":500},
{"id":"w59","l":3,"x":325,"y":1641,"a":1000,"b":540},{"id":"w59","l":3,"x":390,"y":1630,"a":1000,"b":540},{"id":"w59","l":3,"x":440,"y":1610,"a":1000,"b":540},
{"id":"w60","l":3,"x":231,"y":1628,"a":900,"b":500},{"id":"w60","l":3,"x":250,"y":1560,"a":900,"b":500},{"id":"w60","l":3,"x":300,"y":1510,"a":900,"b":500},
{"id":"w61","l":3,"x":-78,"y":1614,"a":850,"b":480},{"id":"w61","l":3,"x":-80,"y":1690,"a":850,"b":480},{"id":"w61","l":3,"x":-60,"y":1760,"a":850,"b":480},
{"id":"w62","l":3,"x":-158,"y":1628,"a":900,"b":500},{"id":"w62","l":3,"x":-170,"y":1700,"a":900,"b":500},{"id":"w62","l":3,"x":-150,"y":1790,"a":900,"b":500},
{"id":"w63","l":3,"x":-272,"y":1702,"a":1000,"b":540},{"id":"w63","l":3,"x":-330,"y":1740,"a":1000,"b":540},{"id":"w63","l":3,"x":-380,"y":1760,"a":1000,"b":540},
{"id":"w64","l":3,"x":-272,"y":1702,"a":1000,"b":540},{"id":"w64","l":3,"x":-310,"y":1640,"a":1000,"b":540},{"id":"w64","l":3,"x":-380,"y":1610,"a":1000,"b":540},
{"id":"w65","l":3,"x":56,"y":1480,"a":700,"b":420},{"id":"w65","l":3,"x":110,"y":1470,"a":700,"b":420},{"id":"w65","l":3,"x":170,"y":1490,"a":700,"b":420},
{"id":"w66","l":3,"x":46,"y":1009,"a":500,"b":300},{"id":"w66","l":3,"x":80,"y":1080,"a":500,"b":300},{"id":"w66","l":3,"x":120,"y":1130,"a":500,"b":300},
{"id":"w67","l":3,"x":3,"y":935,"a":500,"b":300},{"id":"w67","l":3,"x":-50,"y":960,"a":500,"b":300},{"id":"w67","l":3,"x":-90,"y":1010,"a":500,"b":300},
{"id":"w68","l":3,"x":-8,"y":1103,"a":500,"b":300},{"id":"w68","l":3,"x":-60,"y":1060,"a":500,"b":300},{"id":"w68","l":3,"x":-120,"y":1050,"a":500,"b":300}],
"curves":[
{"s":"0 Ma","x":3,"y":3000},{"x":19,"y":2670,"s":"0 Ma"},{"x":39,"y":2330,"s":"0 Ma"},{"x":44,"y":2138,"s":"0 Ma"},{"x":92,"y":1795,"s":"0 Ma"},{"x":155,"y":1474,"s":"0 Ma"},{"x":219,"y":1303,"s":"0 Ma"},{"x":282,"y":1189,"s":"0 Ma"},{"x":358,"y":1075,"s":"0 Ma"},{"x":434,"y":961,"s":"0 Ma"},{"x":497,"y":877,"s":"0 Ma"},{"x":586,"y":771,"s":"0 Ma"},{"x":688,"y":657,"s":"0 Ma"},{"x":776,"y":600,"s":"0 Ma"},{"x":967,"y":498,"s":"0 Ma"},{"x":1094,"y":448,"s":"0 Ma"},{"x":1250,"y":390,"s":"0 Ma"},{"x":1500,"y":310,"s":"0 Ma"},{"x":1750,"y":245,"s":"0 Ma"},{"x":2000,"y":170,"s":"0 Ma"},{"x":2250,"y":110,"s":"0 Ma"},{"x":2500,"y":48,"s":"0 Ma"},{"x":2640,"y":10,"s":"0 Ma"},
{"x":12,"y":1683,"s":"10 Ma"},{"x":14,"y":1417,"s":"10 Ma"},{"x":39,"y":1208,"s":"10 Ma"},{"x":64,"y":1018,"s":"10 Ma"},{"x":115,"y":877,"s":"10 Ma"},{"x":181,"y":752,"s":"10 Ma"},{"x":244,"y":619,"s":"10 Ma"},{"x":333,"y":543,"s":"10 Ma"},{"x":396,"y":494,"s":"10 Ma"},{"x":497,"y":448,"s":"10 Ma"},{"x":713,"y":377,"s":"10 Ma"},{"x":1000,"y":282,"s":"10 Ma"},{"x":1500,"y":195,"s":"10 Ma"},{"x":2000,"y":100,"s":"10 Ma"},{"x":2500,"y":27,"s":"10 Ma"},{"x":2660,"y":4,"s":"10 Ma"},
{"x":12,"y":1322,"s":"20 Ma"},{"x":12,"y":1170,"s":"20 Ma"},{"x":30,"y":1018,"s":"20 Ma"},{"x":62,"y":809,"s":"20 Ma"},{"x":115,"y":725,"s":"20 Ma"},{"x":204,"y":610,"s":"20 Ma"},{"x":255,"y":563,"s":"20 Ma"},{"x":497,"y":441,"s":"20 Ma"},{"x":1000,"y":277,"s":"20 Ma"},{"x":2000,"y":95,"s":"20 Ma"},{"x":2650,"y":2,"s":"20 Ma"},
{"x":12,"y":1174,"s":"55 Ma"},{"x":15,"y":1018,"s":"55 Ma"},{"x":41,"y":889,"s":"55 Ma"},{"x":66,"y":790,"s":"55 Ma"},{"x":115,"y":718,"s":"55 Ma"},{"x":204,"y":603,"s":"55 Ma"},{"x":255,"y":558,"s":"55 Ma"},{"x":383,"y":498,"s":"55 Ma"},{"x":497,"y":441,"s":"55 Ma"},{"x":713,"y":372,"s":"55 Ma"},{"x":1000,"y":277,"s":"55 Ma"},{"x":1250,"y":235,"s":"55 Ma"},{"x":1500,"y":190,"s":"55 Ma"},{"x":1750,"y":140,"s":"55 Ma"},{"x":2000,"y":95,"s":"55 Ma"},{"x":2250,"y":55,"s":"55 Ma"},{"x":2500,"y":22,"s":"55 Ma"},{"x":2650,"y":2,"s":"55 Ma"}],
"key":[{"s":"0 Ma","x0":2208,"x1":2433,"y":3490,"tx":2490,"ty":3453},{"s":"10 Ma","x0":2208,"x1":2433,"y":2955,"tx":2490,"ty":2929},{"s":"20 Ma","x0":2208,"x1":2433,"y":2419,"tx":2490,"ty":2393},{"s":"55 Ma","x0":2208,"x1":2433,"y":1903,"tx":2490,"ty":1903}]
},
"vconcat":[
{"hconcat":[
{"width":298,"height":497,"layer":[
{"data":{"name":"outline"},"mark":{"type":"area","orient":"horizontal","fill":{"gradient":"linear","x1":0,"x2":0,"y1":1,"y2":0,"stops":[{"offset":0,"color":"#000f90"},{"offset":0.06,"color":"#0a50b0"},{"offset":0.2,"color":"#10d8e8"},{"offset":0.4,"color":"#40f0c8"},{"offset":0.55,"color":"#90f880"},{"offset":1,"color":"#a8fc60"}]},"stroke":{"gradient":"linear","x1":0,"x2":0,"y1":1,"y2":0,"stops":[{"offset":0,"color":"#000f90"},{"offset":0.2,"color":"#10d8e8"},{"offset":0.4,"color":"#a0ff60"},{"offset":0.55,"color":"#f0f020"},{"offset":1,"color":"#e8f020"}]},"strokeWidth":1.2},"encoding":{"y":{"field":"y","type":"quantitative","scale":{"domain":[0,2000]},"axis":{"values":[0,400,800,1200,1600,2000],"tickSize":-5,"labelPadding":14,"title":"Distance (km)","titleX":-69,"titleY":227,"labelExpr":"''+datum.value","encode":{"labels":{"update":{"dy":{"signal":"datum.value==2000?5:datum.value==0?-4:0"}}}}}},"x":{"field":"w0","type":"quantitative","scale":{"domain":[600,-600]},"axis":{"values":[600,300,0,-300,-600],"tickSize":-5,"labelPadding":13,"title":"Distance (km)","titleX":156,"titleY":33,"labelExpr":"''+datum.value","encode":{"labels":{"update":{"dx":{"signal":"datum.value==600?4:datum.value<0?-6:0"}}}}}},"x2":{"field":"w1"}}},
{"data":{"name":"cells"},"mark":{"type":"square","size":237,"filled":true,"opacity":1},"encoding":{"x":{"field":"x","type":"quantitative"},"y":{"field":"y","type":"quantitative"},"color":{"field":"a","type":"quantitative","legend":null,"scale":{"domain":[0,350,650,950,1500,2200,3000,3600,5000],"range":["#00008f","#0050b0","#00c0e0","#00ffff","#80ff80","#ffff00","#ff8000","#ff0000","#7a0000"]}}}},
{"data":{"name":"cells"},"mark":{"type":"circle","size":380,"opacity":0.5},"encoding":{"x":{"field":"x","type":"quantitative"},"y":{"field":"y","type":"quantitative"},"color":{"field":"a","type":"quantitative","legend":null}}},
{"data":{"name":"rivers"},"transform":[{"filter":"datum.l==3"}],"mark":{"type":"line","strokeWidth":2.5,"opacity":0.75,"strokeCap":"round","strokeJoin":"round"},"encoding":{"x":{"field":"x","type":"quantitative"},"y":{"field":"y","type":"quantitative"},"detail":{"field":"id"},"order":{"value":null},"color":{"field":"a","type":"quantitative","legend":null}}},
{"data":{"name":"rivers"},"transform":[{"filter":"datum.l==2"}],"mark":{"type":"line","strokeWidth":8,"opacity":0.35,"strokeCap":"round","strokeJoin":"round"},"encoding":{"x":{"field":"x","type":"quantitative"},"y":{"field":"y","type":"quantitative"},"detail":{"field":"id"},"order":{"value":null},"color":{"field":"a","type":"quantitative","legend":null}}},
{"data":{"name":"rivers"},"transform":[{"filter":"datum.l==2"}],"mark":{"type":"line","strokeWidth":4,"opacity":0.5,"strokeCap":"round","strokeJoin":"round"},"encoding":{"x":{"field":"x","type":"quantitative"},"y":{"field":"y","type":"quantitative"},"detail":{"field":"id"},"order":{"value":null},"color":{"field":"a","type":"quantitative","legend":null}}},
{"data":{"name":"main"},"mark":{"type":"line","strokeWidth":9,"opacity":0.3,"color":"#0a3ca8","strokeJoin":"round"},"encoding":{"x":{"field":"x","type":"quantitative"},"y":{"field":"y","type":"quantitative"},"order":{"value":null}}},
{"data":{"name":"rivers"},"transform":[{"filter":"datum.l==2"}],"mark":{"type":"line","strokeWidth":1,"opacity":0.7,"color":"#40388f"},"encoding":{"x":{"field":"x","type":"quantitative"},"y":{"field":"y","type":"quantitative"},"detail":{"field":"id"},"order":{"value":null}}},
{"data":{"name":"main"},"mark":{"type":"line","strokeWidth":2,"color":"#f01010"},"encoding":{"x":{"field":"x","type":"quantitative"},"y":{"field":"y","type":"quantitative"},"order":{"value":null}}},
{"data":{"values":[{"x":0,"y":0}]},"mark":{"type":"circle","size":110,"color":"#ea2130","opacity":1,"clip":false},"encoding":{"x":{"field":"x","type":"quantitative"},"y":{"field":"y","type":"quantitative"}}},
{"data":{"values":[{"x":134,"y":2152,"t":"t"}]},"mark":{"type":"text","fontSize":22.5,"fontStyle":"italic","align":"left","color":"#3a3535"},"encoding":{"x":{"field":"x","type":"quantitative"},"y":{"field":"y","type":"quantitative"},"text":{"field":"t"}}},
{"data":{"values":[{"x":86,"y":2152,"t":"= 0 Ma"}]},"mark":{"type":"text","fontSize":22.5,"align":"left","color":"#3a3535"},"encoding":{"x":{"field":"x","type":"quantitative"},"y":{"field":"y","type":"quantitative"},"text":{"field":"t"}}},
{"data":{"values":[{"x":980,"y":2047,"t":"a"}]},"mark":{"type":"text","fontSize":27,"fontWeight":"bold","align":"left","color":"#3a3030"},"encoding":{"x":{"field":"x","type":"quantitative"},"y":{"field":"y","type":"quantitative"},"text":{"field":"t"}}}
]},
{"width":297,"height":496,"layer":[
{"data":{"name":"outline"},"mark":{"type":"area","orient":"horizontal","fill":{"gradient":"linear","x1":0,"x2":0,"y1":1,"y2":0,"stops":[{"offset":0,"color":"#000f90"},{"offset":0.15,"color":"#0070c8"},{"offset":0.3,"color":"#00a8dc"},{"offset":0.5,"color":"#00d8f0"},{"offset":1,"color":"#10ecf0"}]},"stroke":{"gradient":"linear","x1":0,"x2":0,"y1":1,"y2":0,"stops":[{"offset":0,"color":"#000f90"},{"offset":0.15,"color":"#0090d8"},{"offset":0.4,"color":"#00e8f8"},{"offset":1,"color":"#10fff0"}]},"strokeWidth":1.2},"encoding":{"y":{"field":"y","type":"quantitative","scale":{"domain":[0,2000]},"axis":{"values":[0,400,800,1200,1600,2000],"tickSize":-5,"labelPadding":10,"title":"Distance (km)","titleX":-76,"titleY":227,"labelExpr":"''+datum.value","encode":{"labels":{"update":{"dy":{"signal":"datum.value==2000?5:datum.value==0?-4:0"}}}}}},"x":{"field":"w0","type":"quantitative","scale":{"domain":[600,-600]},"axis":{"values":[600,300,0,-300,-600],"tickSize":-5,"labelPadding":13,"title":"Distance (km)","titleX":156,"titleY":36,"labelExpr":"''+datum.value","encode":{"labels":{"update":{"dx":{"signal":"datum.value==600?5:datum.value==-300?-5:0"}}}}}},"x2":{"field":"w1"}}},
{"data":{"name":"cells"},"mark":{"type":"square","size":237,"filled":true,"opacity":1},"encoding":{"x":{"field":"x","type":"quantitative"},"y":{"field":"y","type":"quantitative"},"color":{"field":"b","type":"quantitative","legend":null,"scale":{"domain":[0,450,880,1200,1700,2300,3000,3600,5000],"range":["#00008f","#0050b0","#00c0e0","#00ffff","#80ff80","#ffff00","#ff8000","#ff0000","#7a0000"]}}}},
{"data":{"name":"cells"},"mark":{"type":"circle","size":380,"opacity":0.5},"encoding":{"x":{"field":"x","type":"quantitative"},"y":{"field":"y","type":"quantitative"},"color":{"field":"b","type":"quantitative","legend":null}}},
{"data":{"name":"rivers"},"transform":[{"filter":"datum.l==3"}],"mark":{"type":"line","strokeWidth":2.5,"opacity":0.75,"strokeCap":"round","strokeJoin":"round"},"encoding":{"x":{"field":"x","type":"quantitative"},"y":{"field":"y","type":"quantitative"},"detail":{"field":"id"},"order":{"value":null},"color":{"field":"b","type":"quantitative","legend":null}}},
{"data":{"name":"rivers"},"transform":[{"filter":"datum.l==2"}],"mark":{"type":"line","strokeWidth":8,"opacity":0.35,"strokeCap":"round","strokeJoin":"round"},"encoding":{"x":{"field":"x","type":"quantitative"},"y":{"field":"y","type":"quantitative"},"detail":{"field":"id"},"order":{"value":null},"color":{"field":"b","type":"quantitative","legend":null}}},
{"data":{"name":"rivers"},"transform":[{"filter":"datum.l==2"}],"mark":{"type":"line","strokeWidth":4,"opacity":0.5,"strokeCap":"round","strokeJoin":"round"},"encoding":{"x":{"field":"x","type":"quantitative"},"y":{"field":"y","type":"quantitative"},"detail":{"field":"id"},"order":{"value":null},"color":{"field":"b","type":"quantitative","legend":null}}},
{"data":{"name":"main"},"mark":{"type":"line","strokeWidth":9,"opacity":0.3,"color":"#00209a","strokeJoin":"round"},"encoding":{"x":{"field":"x","type":"quantitative"},"y":{"field":"y","type":"quantitative"},"order":{"value":null}}},
{"data":{"name":"rivers"},"transform":[{"filter":"datum.l==2"}],"mark":{"type":"line","strokeWidth":1,"opacity":0.7,"color":"#50308a"},"encoding":{"x":{"field":"x","type":"quantitative"},"y":{"field":"y","type":"quantitative"},"detail":{"field":"id"},"order":{"value":null}}},
{"data":{"name":"main"},"mark":{"type":"line","strokeWidth":2,"color":"#f01010"},"encoding":{"x":{"field":"x","type":"quantitative"},"y":{"field":"y","type":"quantitative"},"order":{"value":null}}},
{"data":{"values":[{"x":0,"y":0}]},"mark":{"type":"circle","size":110,"color":"#ea2130","opacity":1,"clip":false},"encoding":{"x":{"field":"x","type":"quantitative"},"y":{"field":"y","type":"quantitative"}}},
{"data":{"values":[{"x":200,"y":2156,"t":"t"}]},"mark":{"type":"text","fontSize":22.5,"fontStyle":"italic","align":"left","color":"#3a3535"},"encoding":{"x":{"field":"x","type":"quantitative"},"y":{"field":"y","type":"quantitative"},"text":{"field":"t"}}},
{"data":{"values":[{"x":156,"y":2156,"t":"= 55 Ma"}]},"mark":{"type":"text","fontSize":22.5,"align":"left","color":"#3a3535"},"encoding":{"x":{"field":"x","type":"quantitative"},"y":{"field":"y","type":"quantitative"},"text":{"field":"t"}}},
{"data":{"values":[{"x":957,"y":2050,"t":"b"}]},"mark":{"type":"text","fontSize":27,"fontWeight":"bold","align":"left","color":"#3a3030"},"encoding":{"x":{"field":"x","type":"quantitative"},"y":{"field":"y","type":"quantitative"},"text":{"field":"t"}}}
]}
],"spacing":245,"bounds":"flush","resolve":{"scale":{"color":"independent"}}},
{"width":10,"height":591,"data":{"values":[{}]},"mark":{"type":"rect","opacity":0},"encoding":{}},
{"hconcat":[{"width":23,"height":10,"data":{"values":[{}]},"mark":{"type":"rect","opacity":0},"encoding":{}},
{"width":728,"height":24,"view":{"stroke":"#333"},"data":{"values":[{"z0":0,"z1":78.1},{"z0":78.1,"z1":156.3},{"z0":156.3,"z1":234.4},{"z0":234.4,"z1":312.5},{"z0":312.5,"z1":390.6},{"z0":390.6,"z1":468.8},{"z0":468.8,"z1":546.9},{"z0":546.9,"z1":625},{"z0":625,"z1":703.1},{"z0":703.1,"z1":781.3},{"z0":781.3,"z1":859.4},{"z0":859.4,"z1":937.5},{"z0":937.5,"z1":1015.6},{"z0":1015.6,"z1":1093.8},{"z0":1093.8,"z1":1171.9},{"z0":1171.9,"z1":1250},{"z0":1250,"z1":1328.1},{"z0":1328.1,"z1":1406.3},{"z0":1406.3,"z1":1484.4},{"z0":1484.4,"z1":1562.5},{"z0":1562.5,"z1":1640.6},{"z0":1640.6,"z1":1718.8},{"z0":1718.8,"z1":1796.9},{"z0":1796.9,"z1":1875},{"z0":1875,"z1":1953.1},{"z0":1953.1,"z1":2031.3},{"z0":2031.3,"z1":2109.4},{"z0":2109.4,"z1":2187.5},{"z0":2187.5,"z1":2265.6},{"z0":2265.6,"z1":2343.8},{"z0":2343.8,"z1":2421.9},{"z0":2421.9,"z1":2500},{"z0":2500,"z1":2578.1},{"z0":2578.1,"z1":2656.3},{"z0":2656.3,"z1":2734.4},{"z0":2734.4,"z1":2812.5},{"z0":2812.5,"z1":2890.6},{"z0":2890.6,"z1":2968.8},{"z0":2968.8,"z1":3046.9},{"z0":3046.9,"z1":3125},{"z0":3125,"z1":3203.1},{"z0":3203.1,"z1":3281.3},{"z0":3281.3,"z1":3359.4},{"z0":3359.4,"z1":3437.5},{"z0":3437.5,"z1":3515.6},{"z0":3515.6,"z1":3593.8},{"z0":3593.8,"z1":3671.9},{"z0":3671.9,"z1":3750},{"z0":3750,"z1":3828.1},{"z0":3828.1,"z1":3906.3},{"z0":3906.3,"z1":3984.4},{"z0":3984.4,"z1":4062.5},{"z0":4062.5,"z1":4140.6},{"z0":4140.6,"z1":4218.8},{"z0":4218.8,"z1":4296.9},{"z0":4296.9,"z1":4375},{"z0":4375,"z1":4453.1},{"z0":4453.1,"z1":4531.3},{"z0":4531.3,"z1":4609.4},{"z0":4609.4,"z1":4687.5},{"z0":4687.5,"z1":4765.6},{"z0":4765.6,"z1":4843.8},{"z0":4843.8,"z1":4921.9},{"z0":4921.9,"z1":5000}]},"mark":{"type":"rect"},"encoding":{"x":{"field":"z0","type":"quantitative","scale":{"domain":[0,5000]},"axis":{"values":[0,1000,2000,3000,4000,5000],"tickSize":10,"domain":false,"labelPadding":11,"format":"d","title":"Topography (m)","titleFontSize":20,"titleX":354,"titleY":54,"tickColor":"#333","labelFontSize":21}},"x2":{"field":"z1"},"color":{"field":"z0","type":"quantitative","legend":null,"scale":{"domain":[0,400,800,1150,1700,2300,3000,3600,5000],"range":["#00008f","#0050b0","#00c0e0","#00ffff","#80ff80","#ffff00","#ff8000","#ff0000","#7a0000"]}}}}
],"spacing":0,"bounds":"flush"},
{"width":10,"height":153,"data":{"values":[{}]},"mark":{"type":"rect","opacity":0},"encoding":{}},
{"hconcat":[{"width":3.5,"height":10,"data":{"values":[{}]},"mark":{"type":"rect","opacity":0},"encoding":{}},
{"width":788.5,"height":351,"view":{"stroke":"#333","strokeWidth":1.5},"layer":[
{"data":{"name":"curves"},"mark":{"type":"line","strokeWidth":4,"clip":false},"encoding":{"x":{"field":"x","type":"quantitative","scale":{"domain":[0,3000]},"axis":{"values":[0,500,1000,1500,2000,2500,3000],"grid":true,"gridColor":"#c8c8c8","tickSize":-10,"labelPadding":18,"format":"d","domainColor":"#333","tickColor":"#333","title":"Distance from divide (km)","titleX":374.5,"titleY":37}},"y":{"field":"y","type":"quantitative","scale":{"domain":[0,4000]},"axis":{"values":[0,1000,2000,3000,4000],"grid":true,"gridColor":"#a8a8a8","gridDash":[1,1],"tickSize":-7,"labelPadding":12,"format":"d","domainColor":"#333","tickColor":"#333","title":"Elevation (m)","titleX":-73.5,"titleY":171}},"color":{"field":"s","type":"nominal","legend":null,"scale":{"domain":["0 Ma","10 Ma","20 Ma","55 Ma"],"range":["#ff0000","#00ff00","#00ffff","#ffd000"]},"sort":null},"order":{"value":null}}},
{"data":{"values":[{"x0":2130,"x1":2806,"y0":3783,"y1":1576}]},"mark":{"type":"rect","fill":"#ffffff","stroke":"#666666","strokeWidth":1},"encoding":{"x":{"field":"x0","type":"quantitative"},"x2":{"field":"x1"},"y":{"field":"y0","type":"quantitative"},"y2":{"field":"y1"}}},
{"data":{"name":"key"},"mark":{"type":"rule","strokeWidth":3.5},"encoding":{"x":{"field":"x0","type":"quantitative"},"x2":{"field":"x1"},"y":{"field":"y","type":"quantitative"},"color":{"field":"s","type":"nominal","legend":null}}},
{"data":{"name":"key"},"mark":{"type":"text","fontSize":22.5,"align":"left","color":"#3a3535"},"encoding":{"x":{"field":"tx","type":"quantitative"},"y":{"field":"ty","type":"quantitative"},"text":{"field":"s"}}},
{"data":{"values":[{"x":-382,"y":4250,"t":"c"}]},"mark":{"type":"text","fontSize":27,"fontWeight":"bold","align":"left","color":"#3a3030"},"encoding":{"x":{"field":"x","type":"quantitative"},"y":{"field":"y","type":"quantitative"},"text":{"field":"t"}}}
]}
],"spacing":0,"bounds":"flush"}
]}
